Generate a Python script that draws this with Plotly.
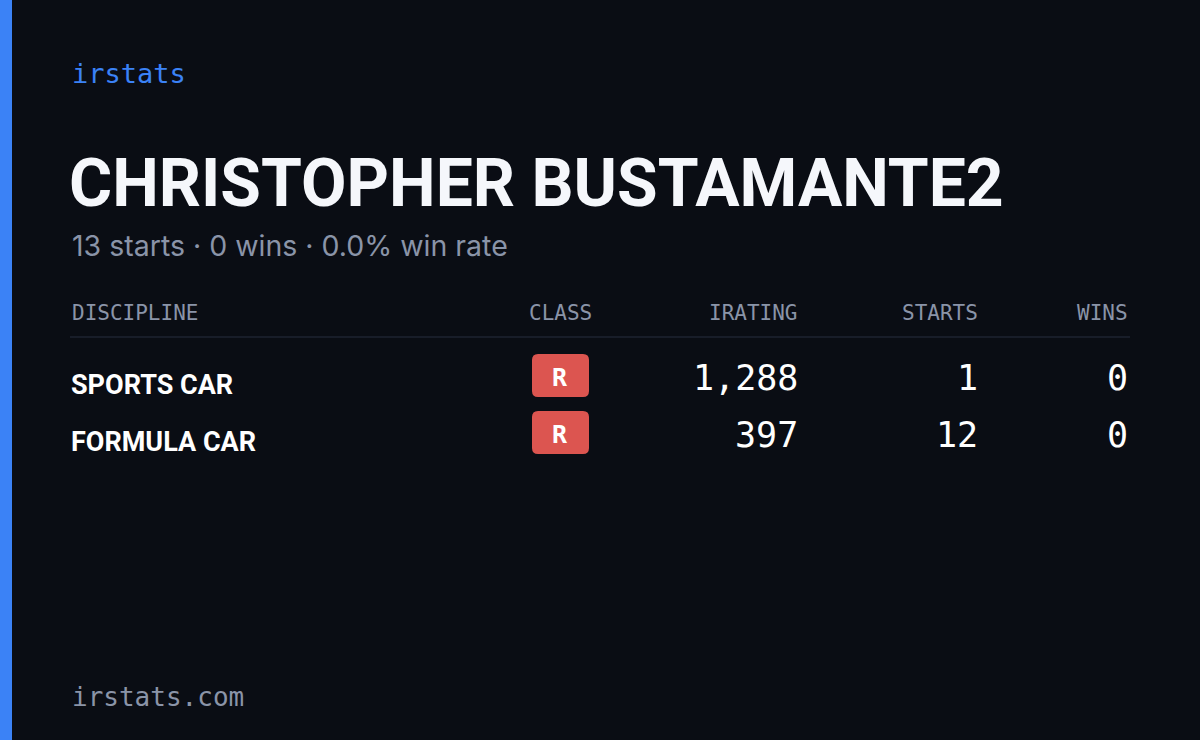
import plotly.graph_objects as go

disciplines = ["SPORTS CAR", "FORMULA CAR"]
classes = ["R", "R"]
iratings = [1288, 397]
starts = [1, 12]
wins = [0, 0]
name = "CHRISTOPHER BUSTAMANTE2"
headers = ["DISCIPLINE", "CLASS", "IRATING", "STARTS", "WINS"]

bg = "#0a0d14"
mono = "DejaVu Sans Mono, Liberation Mono, monospace"
narrow = "Roboto, Liberation Sans, sans-serif"
muted = "#8a94a8"

fig = go.Figure()
fig.update_xaxes(range=[0, 1200], visible=False, fixedrange=True)
fig.update_yaxes(range=[740, 0], visible=False, fixedrange=True)

def txt(x, y, s, size, color, font, anchor="left", weight="normal"):
    fig.add_annotation(x=x, y=y, text=s, showarrow=False, xanchor=anchor, yanchor="middle",
                       font=dict(size=size, color=color, family=font, weight=weight))

def rounded(x0, x1, y0, y1, r, color):
    p = (f"M{x0+r},{y0} L{x1-r},{y0} Q{x1},{y0} {x1},{y0+r} L{x1},{y1-r} Q{x1},{y1} {x1-r},{y1} "
         f"L{x0+r},{y1} Q{x0},{y1} {x0},{y1-r} L{x0},{y0+r} Q{x0},{y0} {x0+r},{y0} Z")
    fig.add_shape(type="path", path=p, fillcolor=color, line_width=0, layer="below")

fig.add_shape(type="rect", x0=0, x1=12, y0=0, y1=740, fillcolor="#3b82f6", line_width=0)
txt(70, 73, "irstats", 27, "#3b82f6", mono)
txt(67, 183, name, 66, "#f5f7fb", narrow, weight="bold")
total_starts = sum(starts)
total_wins = sum(wins)
rate = 100 * total_wins / total_starts if total_starts else 0
txt(70, 245, f"{total_starts} starts · {total_wins} wins · {rate:.1f}% win rate", 28.5, muted, "Inter, Noto Sans, sans-serif")

col_x = [70, 560, 800, 980, 1130]
col_anchor = ["left", "center", "right", "right", "right"]
for h, x, a in zip(headers, col_x, col_anchor):
    txt(x, 313, h, 21, muted, mono, a)
fig.add_shape(type="line", x0=70, x1=1130, y0=337, y1=337, line=dict(color="#1e2330", width=1.5))

for i, d in enumerate(disciplines):
    y = 380 + 57 * i
    txt(69, y + 5, d, 27, "#ffffff", narrow, weight="bold")
    rounded(532, 589, y - 26, y + 17, 6, "#dc5550")
    txt(560, y - 3, classes[i], 25, "#ffffff", mono, "center", "bold")
    txt(800, y - 2, f"{iratings[i]:,}", 35, "#ffffff", mono, "right")
    txt(980, y - 2, str(starts[i]), 35, "#ffffff", mono, "right")
    txt(1130, y - 2, str(wins[i]), 35, "#ffffff", mono, "right")

txt(70, 697, "irstats.com", 26, muted, mono)

fig.update_layout(width=1200, height=740, margin=dict(l=0, r=0, t=0, b=0),
                  paper_bgcolor=bg, plot_bgcolor=bg, showlegend=False)
fig.write_html("out.html", config={"displayModeBar": False},
               post_script="document.body.style.margin='0';document.body.style.background='#0a0d14';")
